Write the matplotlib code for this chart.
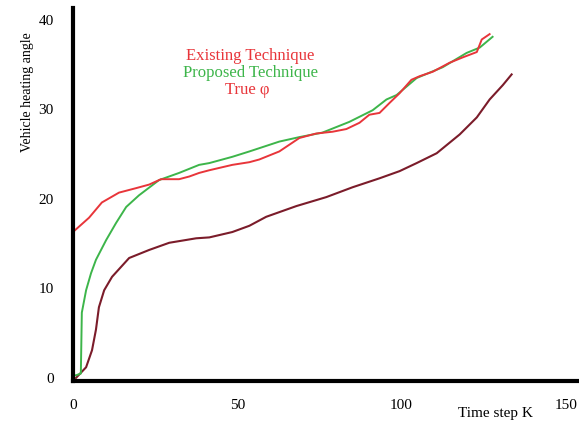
import numpy as np
import matplotlib
matplotlib.use('Agg')
import matplotlib.pyplot as plt

# values
existing_k = [0, 4.9, 8.8, 14.0, 19.2, 23.2, 26.8, 32.3, 35.4, 38.4, 41.5, 48.5, 53.7, 56.7,
              62.8, 68.9, 74.0, 79.0, 83.2, 87.2, 90.2, 93.3, 96.3, 99.4, 103.0, 105.5,
              109.5, 114.6, 118.6, 122.9, 124.4, 126.8]
existing_phi = [16.3, 17.9, 19.6, 20.7, 21.2, 21.6, 22.2, 22.2, 22.5, 22.9, 23.2, 23.8, 24.1, 24.4,
                25.3, 26.8, 27.3, 27.5, 27.8, 28.5, 29.4, 29.6, 30.7, 31.8, 33.3, 33.7,
                34.2, 35.2, 35.8, 36.4, 37.8, 38.4]

proposed_k = [0, 0.9, 2.4, 2.7, 4.0, 5.5, 7.0, 10.1, 13.1, 16.2, 20.1, 26.2, 32.3, 38.4, 41.5,
              48.5, 53.7, 62.8, 68.9, 75.9, 84.1, 91.2, 95.4, 98.5, 104.6, 112.5, 119.8,
              123.8, 127.7]
proposed_phi = [0.3, 0.3, 0.5, 7.3, 9.8, 11.7, 13.2, 15.4, 17.3, 19.1, 20.4, 22.1, 22.9, 23.8, 24.0,
                24.7, 25.3, 26.4, 26.9, 27.4, 28.6, 29.9, 31.1, 31.6, 33.5, 34.7, 36.3,
                36.9, 38.1]

true_k = [0.9, 4.0, 5.8, 7.0, 7.9, 9.5, 11.9, 17.1, 23.2, 29.3, 37.5, 41.5, 48.5, 53.7,
          58.8, 68.0, 77.1, 85.1, 93.3, 99.4, 104.6, 110.7, 117.7, 122.9, 126.8, 130.8, 133.5]
true_phi = [0.0, 1.2, 3.1, 5.4, 7.9, 9.8, 11.3, 13.4, 14.3, 15.1, 15.6, 15.7, 16.3, 17.0,
            18.0, 19.2, 20.2, 21.3, 22.3, 23.1, 24.0, 25.1, 27.2, 29.1, 31.1, 32.7, 33.9]

x_ticks = [0, 50, 100, 150]
y_ticks = [0, 10, 20, 30, 40]

plt.rcParams['font.family'] = ['Liberation Serif', 'DejaVu Serif']

fig = plt.figure(figsize=(5.79, 4.29), dpi=100)
ax = fig.add_axes([0.126, 0.112, 0.874, 0.869])

red = '#e8353a'
green = '#3db54a'
maroon = '#7b1c2a'

ax.plot(true_k, true_phi, color=maroon, lw=1.5)
ax.plot(proposed_k, proposed_phi, color=green, lw=1.4)
ax.plot(existing_k, existing_phi, color=red, lw=1.4)

ax.set_xlim(0, 154)
ax.set_ylim(-0.33, 41.3)
ax.set_xticks(x_ticks)
ax.set_yticks(y_ticks)
ax.tick_params(length=0, labelsize=11)
ax.tick_params(axis='y', pad=14)
ax.tick_params(axis='x', pad=13)

for s in ['top', 'right']:
    ax.spines[s].set_visible(False)
for s in ['left', 'bottom']:
    ax.spines[s].set_linewidth(3)

fig.text(0.048, 0.785, 'Vehicle heating angle', rotation=90, ha='center', va='center', fontsize=10)
fig.text(0.855, 0.037, 'Time step K', ha='center', va='center', fontsize=11)

fig.text(0.432, 0.869, 'Existing Technique', color=red, ha='center', va='center', fontsize=12)
fig.text(0.432, 0.830, 'Proposed Technique', color=green, ha='center', va='center', fontsize=12)
fig.text(0.427, 0.790, 'True φ', color=red, ha='center', va='center', fontsize=12)

fig.savefig('out.png', dpi=100)
